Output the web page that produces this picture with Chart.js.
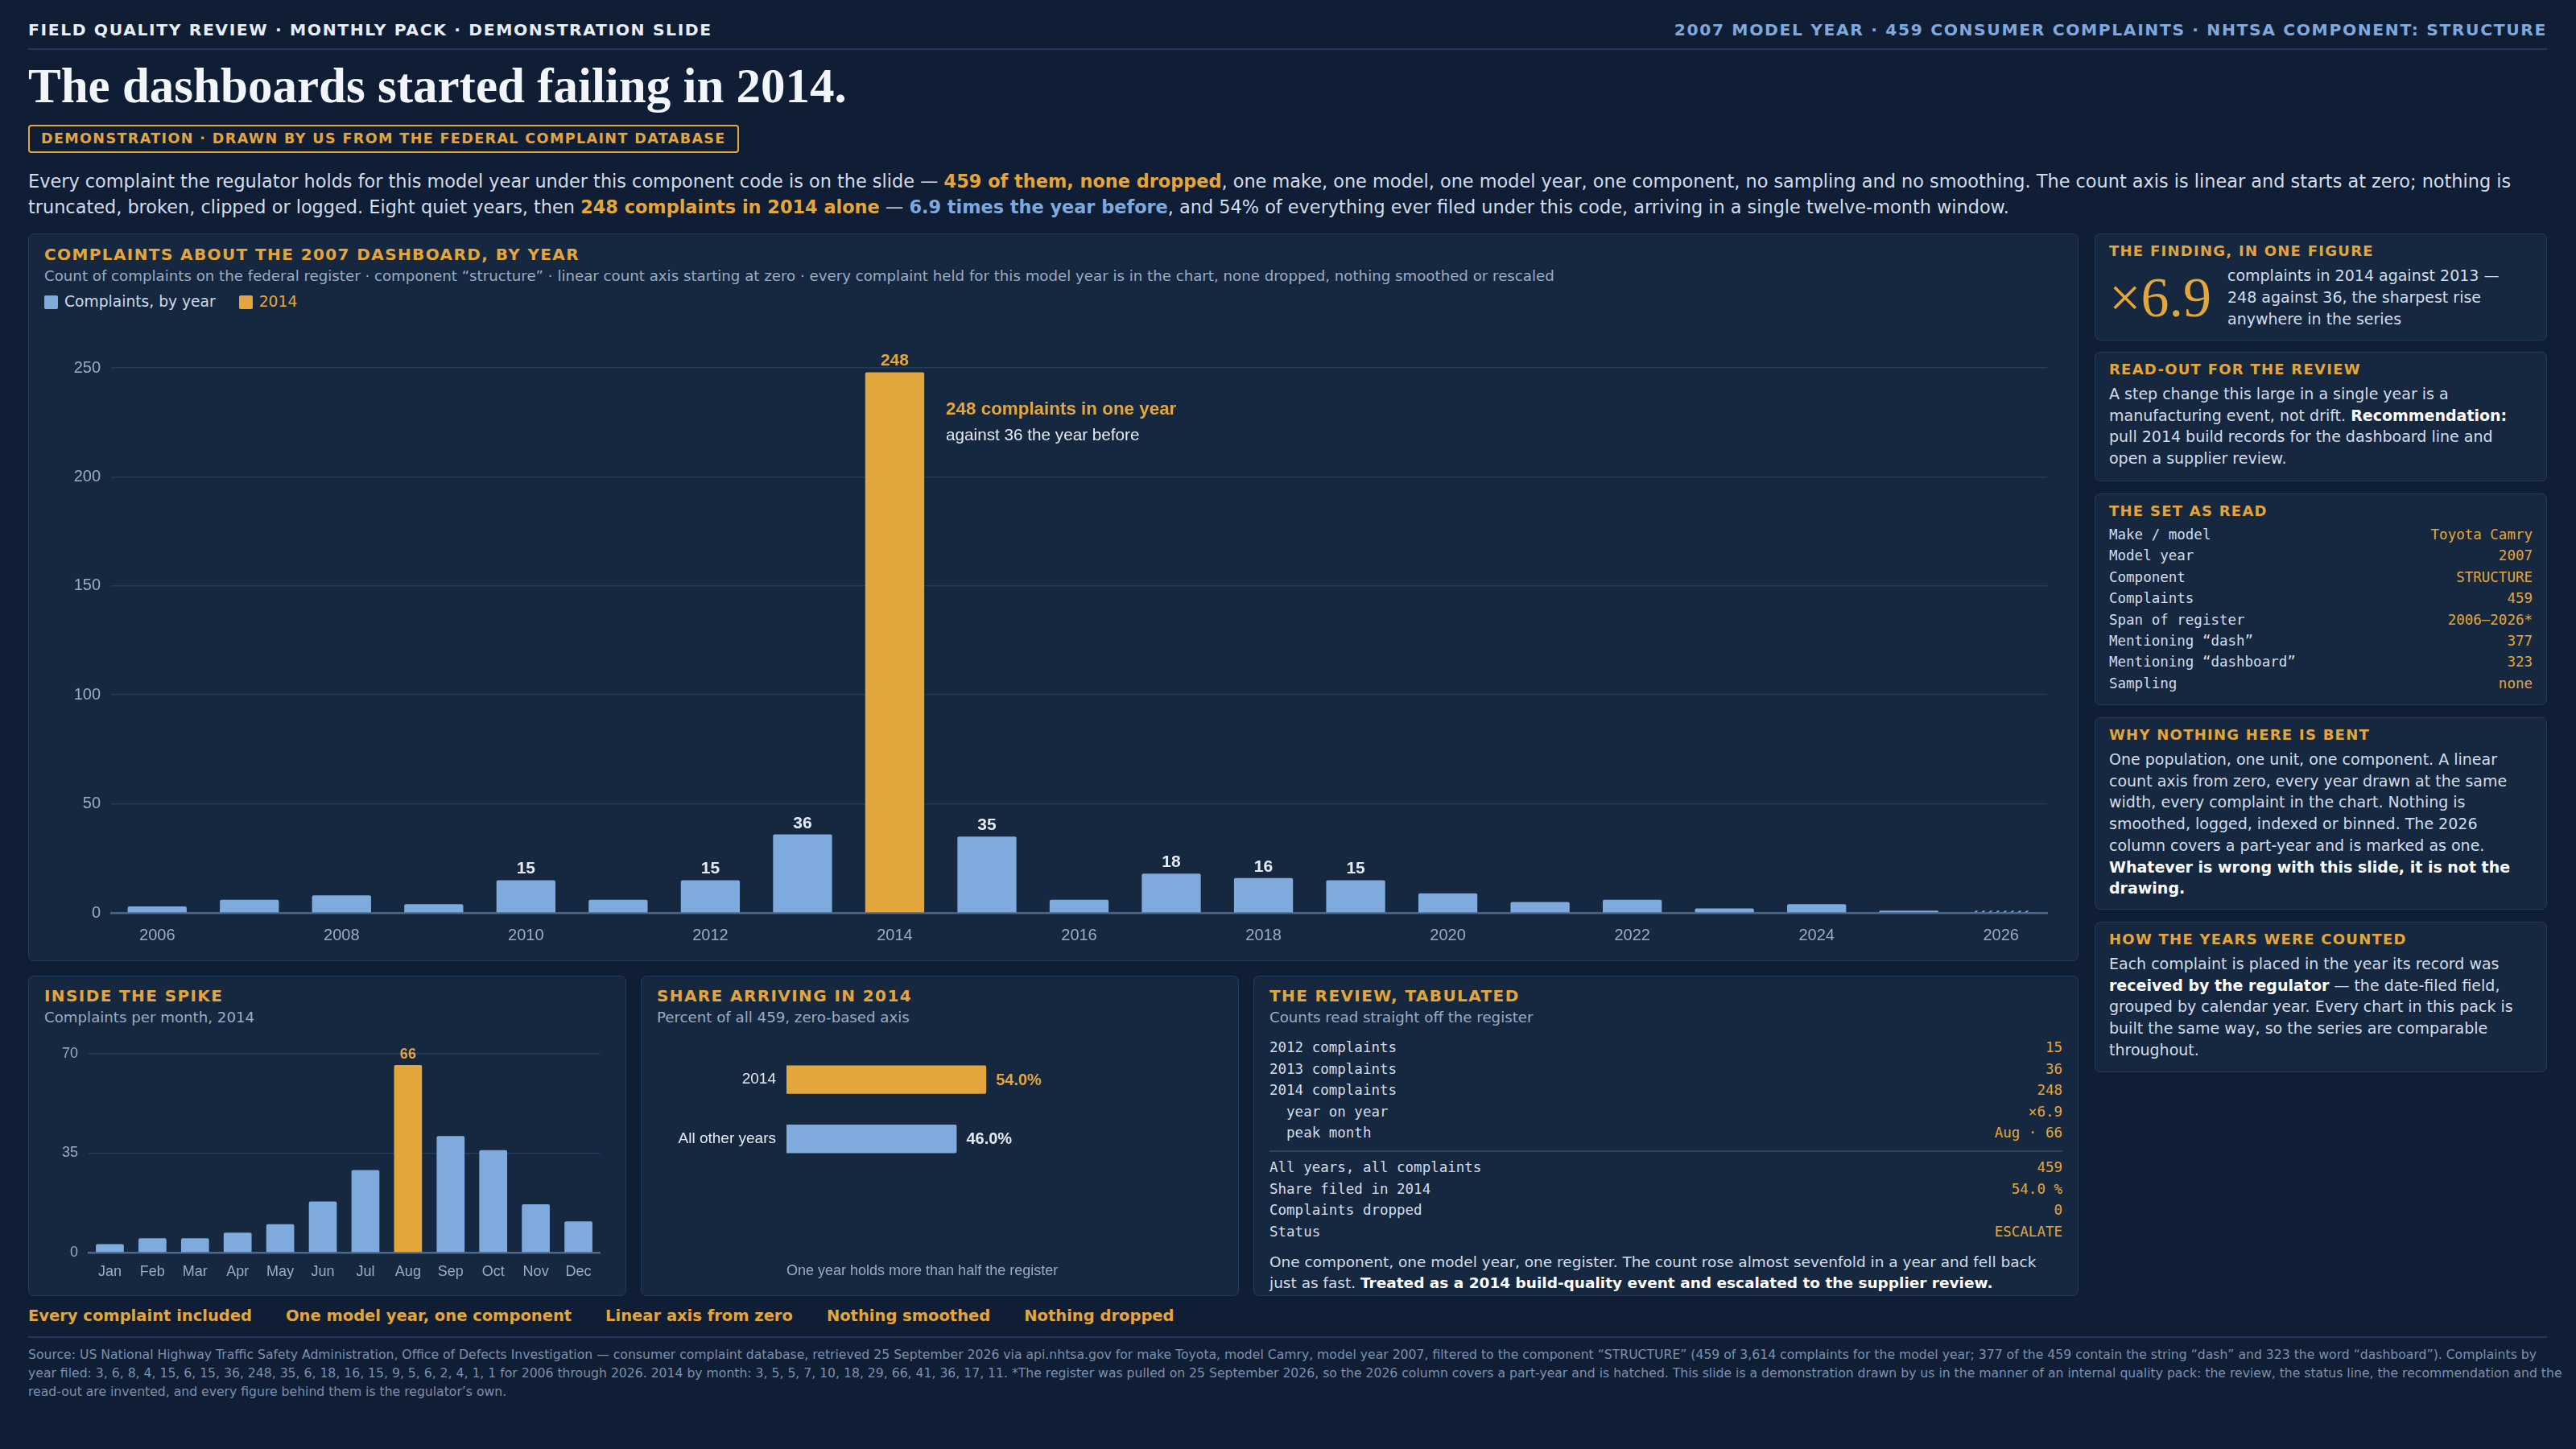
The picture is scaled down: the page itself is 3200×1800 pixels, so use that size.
<!DOCTYPE html>
<html><head><meta charset="utf-8">
<script src="https://cdn.jsdelivr.net/npm/chart.js@4.4.1/dist/chart.umd.min.js"></script>
<style>
body{margin:0;background:#0f1e35;width:3200px;height:1800px;overflow:hidden;font-family:"DejaVu Sans",sans-serif;color:#d3dce9;position:relative}
.abs{position:absolute;white-space:nowrap}
.panel{position:absolute;background:#16283f;border:1.5px solid #223a5b;border-radius:7px;box-sizing:border-box}
.rp{padding:10px 17px 0 17px}
.ptitle{font-weight:bold;color:#e3a63d;font-size:18px;letter-spacing:0.07em;line-height:22px;white-space:nowrap}
.btitle{position:absolute;left:19px;top:12px;font-weight:bold;color:#e3a63d;font-size:20px;letter-spacing:0.07em;line-height:24px;white-space:nowrap}
.bsub{position:absolute;left:19px;top:40px;font-size:18.2px;color:#9aabc3;line-height:22px;white-space:nowrap}
.body{font-size:19px;line-height:26.7px;margin-top:6px;color:#d3dce9}
.body b{color:#fff}
.rows{margin-top:5px;font-family:"DejaVu Sans Mono",monospace;font-size:17.5px;line-height:26.4px}
.row{display:flex;justify-content:space-between;color:#d3dce9}
.row span:last-child{color:#e3a63d}
.o{color:#e3a63d;font-weight:bold}
.bl{color:#7fa8dc;font-weight:bold}
.cwrap{position:absolute}
</style></head>
<body>
<div class="abs" style="left:35px;top:25px;font-size:20.3px;line-height:24px;font-weight:bold;letter-spacing:0.08em;color:#e8eef6">FIELD QUALITY REVIEW · MONTHLY PACK · DEMONSTRATION SLIDE</div>
<div class="abs" style="right:36px;top:25px;font-size:20.3px;line-height:24px;font-weight:bold;letter-spacing:0.08em;color:#7fa8dc">2007 MODEL YEAR · 459 CONSUMER COMPLAINTS · NHTSA COMPONENT: STRUCTURE</div>
<div class="abs" style="left:35px;top:60px;width:3129px;height:2px;background:#22385a"></div>
<div class="abs" style="left:35px;top:72px;font-family:'Liberation Serif',serif;font-weight:bold;font-size:61px;line-height:70px;color:#f2f5fa">The dashboards started failing in 2014.</div>
<div class="abs" style="left:35px;top:155px;height:35px;box-sizing:border-box;border:2px solid #e3a63d;border-radius:4px;padding:0 14px;font-size:17.5px;line-height:31px;font-weight:bold;letter-spacing:0.08em;color:#e3a63d">DEMONSTRATION · DRAWN BY US FROM THE FEDERAL COMPLAINT DATABASE</div>
<div class="abs" style="left:35px;top:209px;width:3135px;white-space:normal;font-size:22.4px;line-height:32px;color:#d3dce9">Every complaint the regulator holds for this model year under this component code is on the slide — <span class="o">459 of them, none dropped</span>, one make, one model, one model year, one component, no sampling and no smoothing. The count axis is linear and starts at zero; nothing is truncated, broken, clipped or logged. Eight quiet years, then <span class="o">248 complaints in 2014 alone</span> — <span class="bl">6.9 times the year before</span>, and 54% of everything ever filed under this code, arriving in a single twelve-month window.</div>

<!-- main panel -->
<div class="panel" style="left:35px;top:290px;width:2547px;height:904px"></div>
<div class="abs" style="left:55px;top:304px;font-size:20px;line-height:24px;font-weight:bold;letter-spacing:0.07em;color:#e3a63d">COMPLAINTS ABOUT THE 2007 DASHBOARD, BY YEAR</div>
<div class="abs" style="left:55px;top:332px;font-size:18.2px;line-height:22px;color:#9aabc3">Count of complaints on the federal register · component “structure” · linear count axis starting at zero · every complaint held for this model year is in the chart, none dropped, nothing smoothed or rescaled</div>
<div class="abs" style="left:55px;top:364px;font-size:18.7px;line-height:22px;color:#cdd8e6;display:flex;align-items:center">
  <span style="display:inline-block;width:17px;height:17px;border-radius:2px;background:#7faadd;margin-right:8px"></span>Complaints, by year
  <span style="display:inline-block;width:17px;height:17px;border-radius:2px;background:#e3a63d;margin:0 8px 0 29px"></span><span style="color:#e3a63d">2014</span>
</div>
<div class="cwrap" style="left:55px;top:400px;width:2500px;height:784px"><canvas id="yearChart"></canvas></div>

<!-- right column -->
<div class="panel rp" style="left:2602px;top:290px;width:562px;height:133px">
  <div class="ptitle">THE FINDING, IN ONE FIGURE</div>
  <div style="display:flex;align-items:center;margin-top:6px">
    <span style="font-family:'Liberation Serif',serif;font-size:70px;line-height:81px;color:#e3a63d;margin-right:20px">×6.9</span>
    <span style="font-size:19px;line-height:27px;color:#d3dce9">complaints in 2014 against 2013 —<br>248 against 36, the sharpest rise<br>anywhere in the series</span>
  </div>
</div>
<div class="panel rp" style="left:2602px;top:437px;width:562px;height:161px">
  <div class="ptitle">READ-OUT FOR THE REVIEW</div>
  <div class="body">A step change this large in a single year is a manufacturing event, not drift. <b>Recommendation:</b> pull 2014 build records for the dashboard line and open a supplier review.</div>
</div>
<div class="panel rp" style="left:2602px;top:613px;width:562px;height:263px">
  <div class="ptitle">THE SET AS READ</div>
  <div class="rows" id="setRows"></div>
</div>
<div class="panel rp" style="left:2602px;top:891px;width:562px;height:239px">
  <div class="ptitle">WHY NOTHING HERE IS BENT</div>
  <div class="body">One population, one unit, one component. A linear count axis from zero, every year drawn at the same width, every complaint in the chart. Nothing is smoothed, logged, indexed or binned. The 2026 column covers a part-year and is marked as one. <b>Whatever is wrong with this slide, it is not the drawing.</b></div>
</div>
<div class="panel rp" style="left:2602px;top:1145px;width:562px;height:187px">
  <div class="ptitle">HOW THE YEARS WERE COUNTED</div>
  <div class="body">Each complaint is placed in the year its record was <b>received by the regulator</b> — the date-filed field, grouped by calendar year. Every chart in this pack is built the same way, so the series are comparable throughout.</div>
</div>

<!-- bottom panels -->
<div class="panel" style="left:35px;top:1212px;width:743px;height:398px">
  <div class="btitle">INSIDE THE SPIKE</div>
  <div class="bsub">Complaints per month, 2014</div>
</div>
<div class="cwrap" style="left:40px;top:1285px;width:720px;height:310px"><canvas id="monthChart"></canvas></div>

<div class="panel" style="left:796px;top:1212px;width:743px;height:398px">
  <div class="btitle">SHARE ARRIVING IN 2014</div>
  <div class="bsub">Percent of all 459, zero-based axis</div>
</div>
<div class="cwrap" style="left:800px;top:1280px;width:720px;height:320px"><canvas id="shareChart"></canvas></div>

<div class="panel" style="left:1557px;top:1212px;width:1025px;height:398px">
  <div class="btitle">THE REVIEW, TABULATED</div>
  <div class="bsub">Counts read straight off the register</div>
  <div class="rows" id="tabA" style="position:absolute;left:19px;right:19px;top:75px;margin:0;line-height:26.5px"></div>
  <div style="position:absolute;left:19px;right:19px;top:216px;height:2px;background:#2a4266"></div>
  <div class="rows" id="tabB" style="position:absolute;left:19px;right:19px;top:224px;margin:0;line-height:26.5px"></div>
  <div style="position:absolute;left:19px;right:45px;top:342px;font-size:18.5px;line-height:26px;color:#d3dce9">One component, one model year, one register. The count rose almost sevenfold in a year and fell back just as fast. <b style="color:#fff">Treated as a 2014 build-quality event and escalated to the supplier review.</b></div>
</div>

<!-- tags -->
<div class="abs" style="left:35px;top:1623px;font-size:19.5px;line-height:24px;font-weight:bold;color:#e3a63d;display:flex;gap:42px">
  <span>Every complaint included</span><span>One model year, one component</span><span>Linear axis from zero</span><span>Nothing smoothed</span><span>Nothing dropped</span>
</div>
<div class="abs" style="left:35px;top:1660px;width:3129px;height:2px;background:#22385a"></div>
<div class="abs" style="left:35px;top:1671px;width:3148px;white-space:normal;font-size:15.65px;line-height:23px;color:#7d90ad">Source: US National Highway Traffic Safety Administration, Office of Defects Investigation — consumer complaint database, retrieved 25 September 2026 via api.nhtsa.gov for make Toyota, model Camry, model year 2007, filtered to the component “STRUCTURE” (459 of 3,614 complaints for the model year; 377 of the 459 contain the string “dash” and 323 the word “dashboard”). Complaints by year filed: 3, 6, 8, 4, 15, 6, 15, 36, 248, 35, 6, 18, 16, 15, 9, 5, 6, 2, 4, 1, 1 for 2006 through 2026. 2014 by month: 3, 5, 5, 7, 10, 18, 29, 66, 41, 36, 17, 11. *The register was pulled on 25 September 2026, so the 2026 column covers a part-year and is hatched. This slide is a demonstration drawn by us in the manner of an internal quality pack: the review, the status line, the recommendation and the read-out are invented, and every figure behind them is the regulator’s own.</div>

<script>
// ---- data ----
const years = ['2006','2007','2008','2009','2010','2011','2012','2013','2014','2015','2016','2017','2018','2019','2020','2021','2022','2023','2024','2025','2026'];
const yearCounts = [3,6,8,4,15,6,15,36,248,35,6,18,16,15,9,5,6,2,4,1,1];
const yearTicks = [0,50,100,150,200,250];
const months = ['Jan','Feb','Mar','Apr','May','Jun','Jul','Aug','Sep','Oct','Nov','Dec'];
const monthCounts = [3,5,5,7,10,18,29,66,41,36,17,11];
const monthTicks = [0,35,70];
const shareLabels = ['2014','All other years'];
const shareValues = [54.0,46.0];
const setLabels = ['Make / model','Model year','Component','Complaints','Span of register','Mentioning “dash”','Mentioning “dashboard”','Sampling'];
const setValues = ['Toyota Camry','2007','STRUCTURE','459','2006–2026*','377','323','none'];
const tabALabels = ['2012 complaints','2013 complaints','2014 complaints','&nbsp;&nbsp;year on year','&nbsp;&nbsp;peak month'];
const tabAValues = ['15','36','248','×6.9','Aug · 66'];
const tabBLabels = ['All years, all complaints','Share filed in 2014','Complaints dropped','Status'];
const tabBValues = ['459','54.0 %','0','ESCALATE'];

function fillRows(id, labels, values){
  document.getElementById(id).innerHTML = labels.map((l,i)=>`<div class="row"><span>${l}</span><span>${values[i]}</span></div>`).join('');
}
fillRows('setRows', setLabels, setValues);
fillRows('tabA', tabALabels, tabAValues);
fillRows('tabB', tabBLabels, tabBValues);

// ---- style ----
const BLUE = '#7faadd', ORANGE = '#e3a63d', TICK = '#9aabc3', LIGHT = '#e3eaf4', GRID = '#243a59', AXIS = '#4c668b';
Chart.defaults.font.family = "'Liberation Sans', Arial, sans-serif";
Chart.defaults.animation = false;

function hatch(color){
  const c = document.createElement('canvas'); c.width = 9; c.height = 9;
  const g = c.getContext('2d'); g.strokeStyle = color; g.lineWidth = 2;
  g.beginPath(); g.moveTo(-1,10); g.lineTo(10,-1); g.stroke();
  return g.createPattern(c,'repeat');
}
const yearColors = years.map((y,i)=> y==='2014' ? ORANGE : (y==='2026' ? hatch(BLUE) : BLUE));

const yearLabelsPlugin = {
  id:'yearLabels',
  afterDatasetsDraw(chart){
    const ctx = chart.ctx, meta = chart.getDatasetMeta(0);
    ctx.save(); ctx.textAlign='center'; ctx.textBaseline='alphabetic';
    ctx.font = "bold 21px 'Liberation Sans', Arial, sans-serif";
    meta.data.forEach((bar,i)=>{
      const v = yearCounts[i]; if (v < 10) return;
      ctx.fillStyle = years[i]==='2014' ? ORANGE : LIGHT;
      ctx.fillText(String(v), bar.x, bar.y - 8);
    });
    const i14 = years.indexOf('2014'), b = meta.data[i14];
    const x = b.x + b.width/2 + 27;
    ctx.textAlign='left'; ctx.textBaseline='middle';
    ctx.fillStyle = ORANGE; ctx.font = "bold 22.4px 'Liberation Sans', Arial, sans-serif";
    ctx.fillText(yearCounts[i14] + ' complaints in one year', x, b.y + 46);
    ctx.fillStyle = LIGHT; ctx.font = "20.7px 'Liberation Sans', Arial, sans-serif";
    ctx.fillText('against ' + yearCounts[i14-1] + ' the year before', x, b.y + 79);
    ctx.restore();
  }
};

new Chart(document.getElementById('yearChart'), {
  type:'bar',
  data:{ labels:years, datasets:[{ label:'Complaints, by year', data:yearCounts, backgroundColor:yearColors, borderRadius:2, categoryPercentage:0.8, barPercentage:0.8 }]},
  options:{
    responsive:true, maintainAspectRatio:false,
    layout:{ padding:{ top:57, right:12, left:0, bottom:0 } },
    plugins:{ legend:{display:false}, tooltip:{enabled:false} },
    scales:{
      x:{ grid:{display:false}, border:{display:true,color:AXIS,width:2.5},
          ticks:{ color:TICK, font:{size:20}, padding:8, autoSkip:false, maxRotation:0, callback:(v,i)=> i%2===0 ? years[i] : '' },
          afterFit(s){ s.height = 50; } },
      y:{ min:0, max:yearTicks[yearTicks.length-1], grid:{color:GRID, lineWidth:1.5, drawTicks:false}, border:{display:false},
          afterBuildTicks(s){ s.ticks = yearTicks.map(v=>({value:v})); },
          ticks:{ color:TICK, font:{size:20}, padding:13 },
          afterFit(s){ s.width = 83; } }
    }
  },
  plugins:[yearLabelsPlugin]
});

const monthLabelsPlugin = {
  id:'monthLabels',
  afterDatasetsDraw(chart){
    const ctx = chart.ctx, meta = chart.getDatasetMeta(0);
    const peak = Math.max(...monthCounts), i = monthCounts.indexOf(peak), b = meta.data[i];
    ctx.save(); ctx.textAlign='center'; ctx.textBaseline='alphabetic';
    ctx.font = "bold 18px 'Liberation Sans', Arial, sans-serif"; ctx.fillStyle = ORANGE;
    ctx.fillText(String(peak), b.x, b.y - 8);
    ctx.restore();
  }
};
new Chart(document.getElementById('monthChart'), {
  type:'bar',
  data:{ labels:months, datasets:[{ data:monthCounts, backgroundColor:monthCounts.map(v=> v===Math.max(...monthCounts) ? ORANGE : BLUE), borderRadius:2, categoryPercentage:0.8, barPercentage:0.82 }]},
  options:{
    responsive:true, maintainAspectRatio:false,
    layout:{ padding:{ top:16, right:15, left:0, bottom:0 } },
    plugins:{ legend:{display:false}, tooltip:{enabled:false} },
    scales:{
      x:{ grid:{display:false}, border:{display:true,color:AXIS,width:2.5},
          ticks:{ color:TICK, font:{size:18}, padding:5, autoSkip:false, maxRotation:0 },
          afterFit(s){ s.height = 39; } },
      y:{ min:0, max:monthTicks[monthTicks.length-1], grid:{color:GRID, lineWidth:1.5, drawTicks:false}, border:{display:false},
          afterBuildTicks(s){ s.ticks = monthTicks.map(v=>({value:v})); },
          ticks:{ color:TICK, font:{size:18}, padding:13 },
          afterFit(s){ s.width = 70; } }
    }
  },
  plugins:[monthLabelsPlugin]
});

const shareLabelsPlugin = {
  id:'shareLabels',
  afterDatasetsDraw(chart){
    const ctx = chart.ctx, meta = chart.getDatasetMeta(0);
    ctx.save(); ctx.textAlign='left'; ctx.textBaseline='middle';
    ctx.font = "bold 20px 'Liberation Sans', Arial, sans-serif";
    meta.data.forEach((bar,i)=>{
      ctx.fillStyle = i===0 ? ORANGE : LIGHT;
      ctx.fillText(shareValues[i].toFixed(1) + '%', bar.x + 12, bar.y + 1);
    });
    ctx.font = "18px 'Liberation Sans', Arial, sans-serif"; ctx.fillStyle = TICK;
    ctx.fillText('One year holds more than half the register', chart.chartArea.left, chart.chartArea.bottom + 128);
    ctx.restore();
  }
};
new Chart(document.getElementById('shareChart'), {
  type:'bar',
  data:{ labels:shareLabels, datasets:[{ data:shareValues, backgroundColor:[ORANGE,BLUE], borderRadius:2, categoryPercentage:0.6, barPercentage:0.8 }]},
  options:{
    indexAxis:'y', responsive:true, maintainAspectRatio:false,
    layout:{ padding:{ top:10, right:83.4, left:0, bottom:148.5 } },
    plugins:{ legend:{display:false}, tooltip:{enabled:false} },
    scales:{
      x:{ display:false, min:0, max:100 },
      y:{ grid:{display:false, drawTicks:false}, border:{display:false},
          ticks:{ color:LIGHT, font:{size:19}, padding:13 },
          afterFit(s){ s.width = 177; } }
    }
  },
  plugins:[shareLabelsPlugin]
});
</script>
</body></html>
